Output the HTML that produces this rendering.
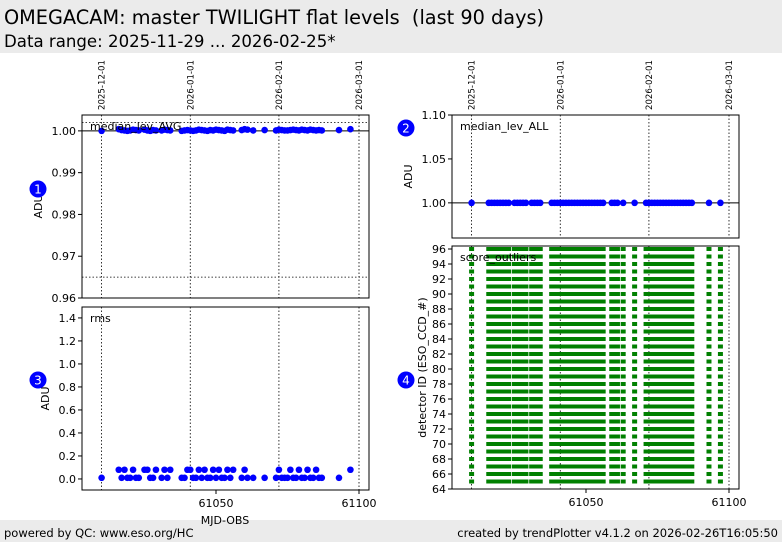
<!DOCTYPE html>
<html><head><meta charset="utf-8"><style>
body{margin:0;width:782px;height:542px;overflow:hidden;background:#fff;font-family:"DejaVu Sans","Liberation Sans",sans-serif;}
svg text{font-family:"DejaVu Sans","Liberation Sans",sans-serif;white-space:pre;}
</style></head><body>
<svg id="c" width="782" height="542" xmlns="http://www.w3.org/2000/svg">
<rect x="0" y="0" width="782" height="53" fill="#ebebeb"/>
<text x="4" y="24" font-size="19.3">OMEGACAM: master TWILIGHT flat levels  (last 90 days)</text>
<text x="4" y="47" font-size="16.6">Data range: 2025-11-29 ... 2026-02-25*</text>
<rect x="0" y="520" width="782" height="22" fill="#ebebeb"/>
<text x="4" y="537" font-size="11.5">powered by QC: www.eso.org/HC</text>
<text x="778" y="537" font-size="11.5" text-anchor="end">created by trendPlotter v4.1.2 on 2026-02-26T16:05:50</text>
<g id="plots"></g>
</svg>
<script>
const days=[61010,61016,61017,61018,61019,61020,61021,61022,61023,61025,61026,61027,61028,61029,61031,61032,61033,61034,61038,61039,61040,61041,61042,61043,61044,61045,61046,61047,61048,61049,61050,61051,61052,61053,61054,61055,61056,61059,61060,61061,61063,61067,61071,61072,61073,61074,61075,61076,61077,61078,61079,61080,61081,61082,61083,61084,61085,61086,61087,61093,61097];
const avgVals=[1.0,1.0004,1.0002,1.0001,1.0,1.0001,1.0003,1.0002,1.0001,1.0003,1.0001,1.0,1.0002,1.0001,1.0001,1.0003,1.0002,1.0001,1.0,1.0001,1.0002,1.0001,1.0,1.0001,1.0003,1.0002,1.0001,1.0,1.0002,1.0001,1.0003,1.0002,1.0001,1.0,1.0003,1.0002,1.0001,1.0002,1.0004,1.0003,1.0001,1.0002,1.0001,1.0003,1.0002,1.0001,1.0001,1.0002,1.0003,1.0002,1.0001,1.0003,1.0002,1.0001,1.0003,1.0002,1.0001,1.0002,1.0001,1.0002,1.0004];
const allVals=days.map(()=>1.0);
const rmsVals=[0.01,0.08,0.01,0.08,0.01,0.01,0.08,0.01,0.01,0.08,0.08,0.01,0.01,0.08,0.01,0.08,0.01,0.08,0.01,0.01,0.08,0.08,0.01,0.01,0.08,0.01,0.08,0.01,0.01,0.08,0.01,0.08,0.01,0.01,0.08,0.01,0.08,0.01,0.08,0.01,0.01,0.01,0.01,0.08,0.01,0.01,0.01,0.08,0.01,0.01,0.08,0.01,0.01,0.08,0.01,0.01,0.08,0.01,0.01,0.01,0.08];
const detectors=[65,66,67,68,69,70,71,72,73,74,75,76,77,78,79,80,81,82,83,84,85,86,87,88,89,90,91,92,93,94,95,96];
const dateTicks=[[61010,"2025-12-01"],[61041,"2026-01-01"],[61072,"2026-02-01"],[61100,"2026-03-01"]];
const xTicks=[61050,61100];
const NS="http://www.w3.org/2000/svg";
const root=document.getElementById('plots');
function el(t,a,p){const e=document.createElementNS(NS,t);for(const k in a)e.setAttribute(k,a[k]);(p||root).appendChild(e);return e;}
function xs(x0){return d=>x0+(d-61050)*2.86+134;}
function panel(name,x0,y0,w,h,ymin,ymax,yticks,fmt,label,ylab,hasX,dates){
  const g=el('g',{});
  
  
  const X=xs(x0);const Y=v=>y0+h-(v-ymin)/(ymax-ymin)*h;
  dateTicks.forEach(([d,s])=>{const x=X(d);
    el('line',{x1:x,x2:x,y1:y0,y2:y0+h,stroke:'#000','stroke-width':0.8,'stroke-dasharray':'1.5,2'},g);
    if(dates){const t=el('text',{x:0,y:0,'font-size':8.6,'font-family':'Liberation Mono,monospace',transform:`translate(${x+3},${y0-5}) rotate(-90)`},g);t.textContent=s;
      
      }
  });
  yticks.forEach(v=>{const y=Y(v);el('line',{x1:x0-4,x2:x0,y1:y,y2:y,stroke:'#000'},g);
    const t=el('text',{x:x0-6,y:y+4,'font-size':11,'text-anchor':'end'},g);t.textContent=fmt(v);
    
    });
  if(hasX)xTicks.forEach(v=>{const x=X(v);el('line',{x1:x,x2:x,y1:y0+h,y2:y0+h+4,stroke:'#000'},g);
    const t=el('text',{x:x,y:y0+h+17,'font-size':11,'text-anchor':'middle'},g);t.textContent=v;
    
    });
  const yl=el('text',{x:0,y:0,'font-size':11,'text-anchor':'middle',transform:`translate(${x0-Math.max(...yticks.map(v=>fmt(v).length))*7-12},${y0+h/2}) rotate(-90)`},g);yl.textContent=ylab;
  
  
  return {g,X,Y,finish(){el('rect',{x:x0,y:y0,width:w,height:h,fill:'none',stroke:'#000','stroke-width':1},g);
    const t=el('text',{x:x0+8,y:y0+15,'font-size':11},g);t.textContent=label;
    
    }};
}
function badge(x,y,n){const c=el('circle',{cx:x,cy:y,r:8.5,fill:'#0000ff'});
  
  
  const t=el('text',{x:x,y:y+4.5,'font-size':12,fill:'#fff','text-anchor':'middle'});t.textContent=n;}
function dots(p,vals){days.forEach((d,i)=>{const c=el('circle',{cx:p.X(d),cy:p.Y(vals[i]),r:3.3,fill:'#0000ff'},p.g);
  
  });}
let p=panel('avg-panel',82,115,287,183,0.96,1.0038,[0.96,0.97,0.98,0.99,1.00],v=>v.toFixed(2),'median_lev_AVG','ADU',false,true);
el('line',{x1:82,x2:369,y1:p.Y(1.0),y2:p.Y(1.0),stroke:'#000'},p.g);
[1.002,0.965].forEach(v=>el('line',{x1:82,x2:369,y1:p.Y(v),y2:p.Y(v),stroke:'#000','stroke-width':0.8,'stroke-dasharray':'1.5,2'},p.g));
dots(p,avgVals);p.finish();
p=panel('all-panel',452,115,287,123,0.96,1.10,[1.00,1.05,1.10],v=>v.toFixed(2),'median_lev_ALL','ADU',false,true);
el('line',{x1:452,x2:739,y1:p.Y(1.0),y2:p.Y(1.0),stroke:'#000'},p.g);
dots(p,allVals);p.finish();
p=panel('rms-panel',82,307,287,183,-0.096,1.495,[0.0,0.2,0.4,0.6,0.8,1.0,1.2,1.4],v=>v.toFixed(1),'rms','ADU',true,false);
dots(p,rmsVals);p.finish();
p=panel('score-panel',452,246,287,243,64,96.4,[64,66,68,70,72,74,76,78,80,82,84,86,88,90,92,94,96],v=>String(v),'score_outliers','detector ID (ESO_CCD_#)',true,false);
days.forEach(d=>detectors.forEach(k=>{const r=el('rect',{x:p.X(d)-2.5,y:p.Y(k)-2,width:5,height:4,fill:'#008000'},p.g);
  
  }));
p.finish();
const xl=el('text',{x:225,y:524,'font-size':11,'text-anchor':'middle'});xl.textContent='MJD-OBS';


badge(38,189,'1');badge(406,128,'2');badge(38,380,'3');badge(406,380,'4');
</script>
</body></html>
